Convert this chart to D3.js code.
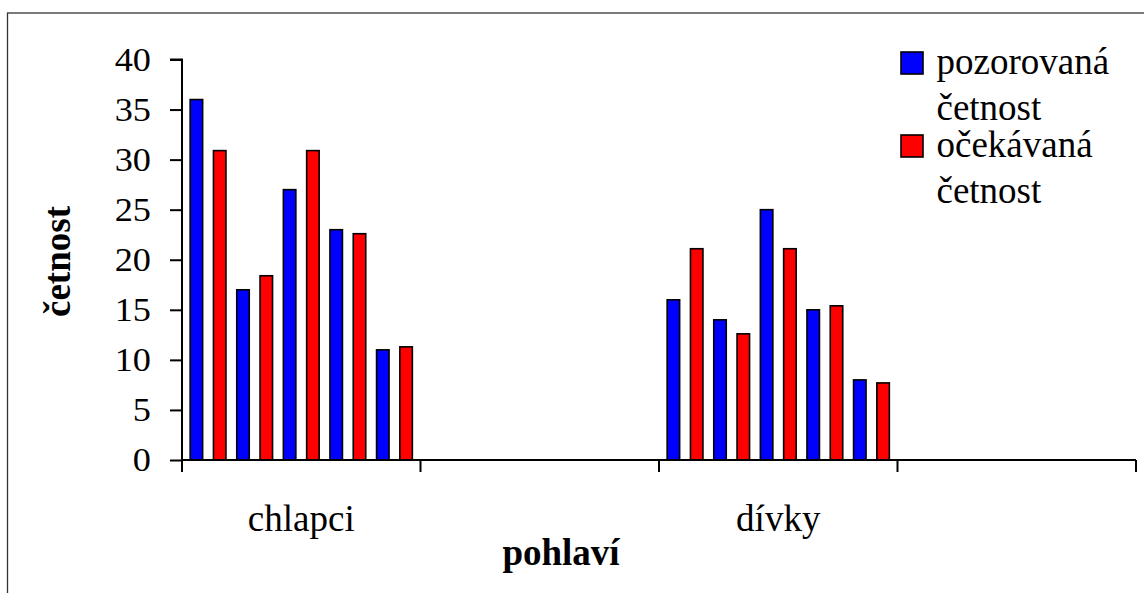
<!DOCTYPE html>
<html><head><meta charset="utf-8">
<script src="https://cdn.jsdelivr.net/npm/d3@7"></script>
<style>
html,body{margin:0;padding:0;background:#fff;}
svg{display:block;}
text{font-family:"Liberation Serif","Times New Roman",serif;fill:#000;}
</style></head>
<body>
<script>
// ---- data ----
const slotLabels = ["chlapci", "", "dívky", ""];
const groups = ["chlapci", "dívky"];
const seriesNames = ["pozorovaná četnost", "očekávaná četnost"];
const seriesLegendLines = [["pozorovaná", "četnost"], ["očekávaná", "četnost"]];
const observedBoys = [36, 17, 27, 23, 11];
const expectedBoys = [30.9, 18.4, 30.9, 22.6, 11.3];
const observedGirls = [16, 14, 25, 15, 8];
const expectedGirls = [21.1, 12.6, 21.1, 15.4, 7.7];
const yTicks = [0, 5, 10, 15, 20, 25, 30, 35, 40];
const colors = ["#0000ff", "#ff0000"];

const W = 1144, H = 593;
const svg = d3.select("body").append("svg").attr("width", W).attr("height", H);

// frame
svg.append("rect").attr("x", 7.5).attr("y", 13).attr("width", W + 10).attr("height", H + 10)
  .attr("fill", "none").attr("stroke", "#333").attr("stroke-width", 1.3);

const x0 = 182, x1 = 1136, yTop = 59.5, yBot = 460;
const x = d3.scaleBand().domain(d3.range(slotLabels.length)).range([x0, x1]).padding(0);
const y = d3.scaleLinear().domain([0, 40]).range([yBot, yTop]);
const inner = d3.scaleBand().domain(d3.range(10)).range([0, x.bandwidth()])
  .paddingInner(0.464).paddingOuter(0.35).align(0.5);

// bars
const barData = [];
const groupSlot = {"chlapci": 0, "dívky": 2};
const dataByGroup = {
  "chlapci": [observedBoys, expectedBoys],
  "dívky": [observedGirls, expectedGirls]
};
groups.forEach(g => {
  const [obs, exp] = dataByGroup[g];
  obs.forEach((v, i) => {
    barData.push({slot: groupSlot[g], k: i * 2, v: v, s: 0});
    barData.push({slot: groupSlot[g], k: i * 2 + 1, v: exp[i], s: 1});
  });
});
svg.append("g").selectAll("rect").data(barData).join("rect")
  .attr("x", d => x(d.slot) + inner(d.k))
  .attr("y", d => y(d.v))
  .attr("width", inner.bandwidth())
  .attr("height", d => y(0) - y(d.v))
  .attr("fill", d => colors[d.s])
  .attr("stroke", "#000").attr("stroke-width", 1.6);

// y axis
const yAxis = d3.axisLeft(y).tickValues(yTicks).tickSize(12).tickPadding(19).tickFormat(d3.format("d"));
const gy = svg.append("g").attr("transform", `translate(${x0},0)`).call(yAxis);
gy.select(".domain").attr("stroke", "#000").attr("stroke-width", 2).attr("d", `M-12,${yTop}H0V${yBot + 12}`);
gy.selectAll(".tick line").attr("stroke", "#000").attr("stroke-width", 2);
gy.selectAll(".tick text").attr("font-size", 33).attr("font-family", "Liberation Serif")
  .attr("transform", "scale(1.1,1)").attr("x", -31 / 1.1);

// x axis
const gx = svg.append("g").attr("transform", `translate(0,${yBot})`);
gx.append("line").attr("x1", x0).attr("x2", x1).attr("y1", 0).attr("y2", 0)
  .attr("stroke", "#000").attr("stroke-width", 2);
const bounds = slotLabels.map((d, i) => x(i)).concat([x(slotLabels.length - 1) + x.bandwidth()]);
gx.selectAll("line.tk").data(bounds).join("line").attr("class", "tk")
  .attr("x1", d => d).attr("x2", d => d).attr("y1", 0).attr("y2", 12)
  .attr("stroke", "#000").attr("stroke-width", 2);
gx.selectAll("text.lbl").data(slotLabels).join("text").attr("class", "lbl")
  .attr("x", (d, i) => x(i) + x.bandwidth() / 2).attr("y", 70.7)
  .attr("text-anchor", "middle").attr("font-size", 37).text(d => d);

// axis titles
svg.append("text").attr("x", 561).attr("y", 565).attr("text-anchor", "middle")
  .attr("font-size", 37).attr("font-weight", "bold").text("pohlaví");
svg.append("text").attr("transform", "translate(70,261.5) rotate(-90)").attr("text-anchor", "middle")
  .attr("font-size", 37).attr("font-weight", "bold").text("četnost");

// legend
const legY = [52, 135];
const lg = svg.append("g");
seriesNames.forEach((name, i) => {
  lg.append("rect").attr("x", 901).attr("y", legY[i]).attr("width", 22).attr("height", 22)
    .attr("fill", colors[i]).attr("stroke", "#000").attr("stroke-width", 1.6);
  seriesLegendLines[i].forEach((line, j) => {
    lg.append("text").attr("x", 936.5).attr("y", legY[i] + 22.3 + j * 46)
      .attr("font-size", 37).text(line);
  });
});
</script>
</body></html>
